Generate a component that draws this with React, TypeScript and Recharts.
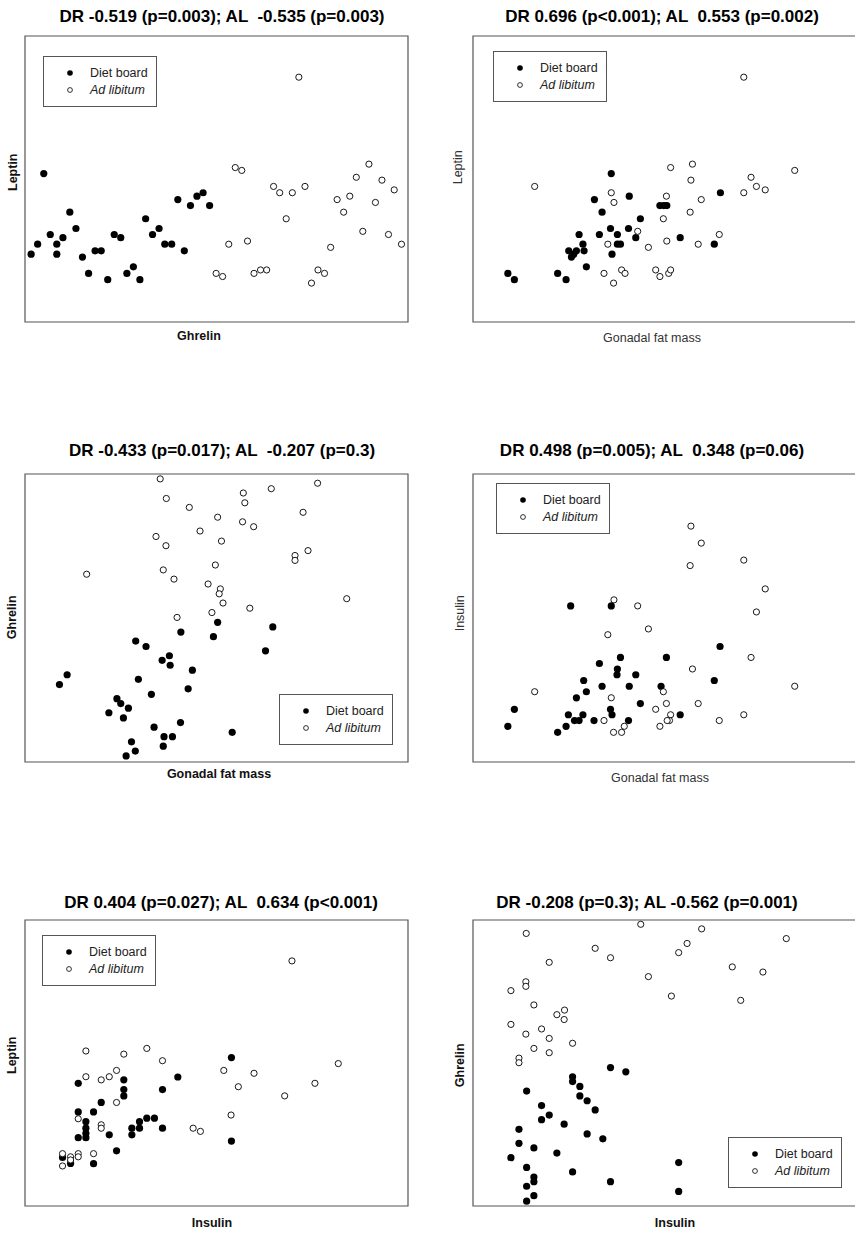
import React from "react";
import { ScatterChart, Scatter, XAxis, YAxis, ReferenceArea } from "recharts";

/* six scatter panels, DR (diet board) vs AL (ad libitum) correlations.
   axes are unlabelled in the source so values are on a 0-100 plot scale */

type Pt = [number, number];

// Leptin vs Ghrelin
const p1Diet: Pt[] = [
  [1.6, 23.7], [3.3, 27.2], [4.9, 51.9], [6.6, 30.6], [8.3, 27.2], [8.3, 23.7], [9.9, 29.5], [11.7, 38.4],
  [13.3, 32.7], [15.0, 22.7], [16.6, 17.0], [18.3, 24.9], [19.9, 24.9], [21.6, 14.8], [23.3, 30.6], [25.0, 29.5],
  [26.6, 17.0], [28.3, 19.3], [30.0, 14.8], [31.5, 36.1], [33.3, 30.6], [35.0, 32.7], [36.5, 27.2], [38.3, 27.2],
  [39.9, 42.8], [41.6, 24.9], [43.2, 40.7], [44.9, 44.0], [46.5, 45.2], [48.2, 40.7],
];
const p1AdLib: Pt[] = [
  [49.9, 17.0], [51.6, 15.9], [53.2, 27.2], [54.9, 54.0], [56.6, 53.0], [58.1, 28.3], [59.8, 17.0], [61.5, 18.2],
  [63.1, 18.2], [64.9, 47.4], [66.5, 45.2], [68.2, 36.1], [69.8, 45.2], [71.5, 85.6], [73.1, 47.4], [74.8, 13.6],
  [76.5, 18.2], [78.2, 17.0], [79.8, 26.1], [81.5, 42.8], [83.2, 38.4], [84.8, 44.0], [86.5, 50.6], [88.2, 31.7],
  [89.8, 55.2], [91.5, 41.8], [93.2, 49.6], [94.9, 30.6], [96.4, 46.2], [98.3, 27.2],
];

// Leptin vs Gonadal fat mass
const p2Diet: Pt[] = [
  [9.1, 17.0], [10.8, 14.8], [22.1, 17.0], [24.3, 14.8], [25.0, 24.9], [25.7, 22.7], [26.3, 23.7], [27.0, 24.9],
  [27.7, 30.6], [28.7, 27.2], [29.0, 24.9], [29.6, 19.3], [31.7, 42.8], [33.0, 30.6], [33.7, 38.4], [35.9, 32.7],
  [36.1, 51.9], [36.3, 23.7], [37.7, 30.6], [37.7, 27.2], [38.5, 27.2], [40.6, 32.7], [40.8, 44.0], [42.5, 29.5],
  [43.7, 36.1], [48.8, 40.7], [49.8, 40.7], [50.6, 40.7], [54.1, 29.5], [63.0, 27.2], [64.6, 45.2],
];
const p2AdLib: Pt[] = [
  [16.1, 47.4], [34.2, 17.0], [35.2, 27.2], [36.1, 45.2], [36.7, 13.6], [36.8, 41.8], [38.8, 18.2], [39.7, 17.0],
  [43.0, 31.7], [45.8, 26.1], [47.7, 18.2], [48.8, 15.9], [49.7, 36.1], [50.5, 44.0], [50.6, 28.3], [51.1, 17.0],
  [51.6, 18.2], [51.6, 54.0], [56.7, 38.4], [56.9, 49.6], [57.3, 55.2], [58.8, 27.2], [59.6, 42.8], [64.3, 30.6],
  [70.7, 85.6], [70.7, 45.2], [72.6, 50.6], [74.0, 47.4], [76.3, 46.2], [84.0, 53.0],
];

// Ghrelin vs Gonadal fat mass
const p3Diet: Pt[] = [
  [50.3, 48.5], [40.7, 45.1], [49.2, 43.5], [64.7, 46.9], [28.9, 42.0], [31.6, 40.1], [62.8, 38.6], [37.7, 36.9],
  [35.8, 35.3], [37.9, 33.6], [43.7, 31.9], [11.0, 30.3], [9.0, 26.9], [29.6, 28.7], [42.6, 25.4], [33.0, 23.5],
  [24.0, 22.0], [25.0, 20.3], [27.0, 18.7], [21.9, 17.1], [25.7, 15.3], [40.6, 13.7], [33.7, 12.1], [54.1, 10.3],
  [36.3, 8.8], [38.5, 8.8], [27.8, 7.0], [36.1, 5.5], [28.8, 3.8], [26.4, 2.1],
];
const p3AdLib: Pt[] = [
  [35.3, 98.3], [36.9, 91.5], [42.9, 88.4], [50.3, 85.0], [57.0, 93.4], [57.4, 90.0], [56.8, 83.4], [59.7, 81.7],
  [64.3, 94.9], [76.4, 96.8], [72.6, 86.7], [45.7, 80.2], [34.2, 78.3], [36.8, 75.1], [51.3, 76.7], [16.1, 65.2],
  [36.1, 66.7], [38.9, 63.5], [49.7, 68.4], [70.5, 71.7], [70.5, 70.0], [73.9, 73.4], [47.8, 61.8], [51.0, 60.1],
  [50.7, 58.4], [51.7, 55.2], [48.8, 51.9], [58.7, 53.4], [39.7, 50.2], [84.0, 56.7],
];

// Insulin vs Gonadal fat mass
const p4Diet: Pt[] = [
  [25.5, 54.2], [36.1, 54.2], [64.5, 40.1], [38.5, 36.3], [50.5, 36.3], [33.0, 34.2], [37.7, 32.3], [37.6, 30.3],
  [42.5, 30.3], [63.0, 28.3], [28.9, 28.3], [33.7, 26.3], [40.8, 26.3], [49.1, 26.3], [29.6, 24.4], [27.0, 22.3],
  [43.7, 20.3], [35.9, 18.3], [24.9, 16.4], [28.7, 16.4], [36.3, 16.4], [54.1, 16.4], [26.5, 14.4], [27.7, 14.4],
  [31.6, 14.4], [40.6, 14.4], [9.1, 12.4], [10.8, 18.3], [24.3, 12.4], [22.1, 10.3],
];
const p4AdLib: Pt[] = [
  [56.9, 81.9], [59.6, 76.0], [56.7, 68.2], [70.7, 70.1], [76.3, 60.1], [74.0, 52.1], [36.8, 56.3], [43.0, 54.2],
  [45.8, 46.2], [35.2, 44.2], [72.6, 36.3], [57.3, 32.3], [84.0, 26.3], [16.1, 24.4], [36.1, 22.3], [49.7, 24.4],
  [47.7, 18.3], [50.5, 20.3], [58.8, 20.3], [51.6, 16.4], [51.3, 14.4], [50.7, 14.4], [48.8, 12.4], [34.2, 14.4],
  [39.5, 12.4], [36.7, 10.3], [38.8, 10.3], [64.3, 14.4], [70.7, 16.4],
];

// Leptin vs Insulin
const p5Diet: Pt[] = [
  [53.9, 51.9], [39.9, 45.1], [13.9, 42.9], [25.8, 44.1], [25.8, 40.7], [25.8, 38.5], [35.9, 40.7], [19.9, 36.2],
  [13.9, 32.9], [17.9, 32.9], [15.9, 29.5], [15.9, 27.2], [15.9, 25.4], [15.9, 23.9], [13.9, 23.9], [22.0, 24.9],
  [31.8, 30.7], [33.8, 30.7], [29.9, 29.5], [29.9, 27.2], [27.9, 27.2], [27.9, 24.9], [35.9, 27.2], [53.9, 22.7],
  [23.9, 19.3], [9.8, 17.0], [11.9, 14.9], [17.9, 14.8],
];
const p5AdLib: Pt[] = [
  [69.7, 85.7], [15.9, 54.2], [25.8, 53.1], [31.8, 55.1], [35.9, 50.8], [15.9, 45.2], [19.9, 44.1], [22.0, 45.2],
  [23.9, 47.4], [23.9, 36.2], [51.9, 47.4], [59.8, 46.4], [55.7, 41.7], [81.8, 49.8], [75.7, 42.9], [67.8, 38.5],
  [53.8, 31.8], [13.9, 30.5], [19.9, 28.4], [19.9, 27.2], [43.9, 27.2], [45.8, 26.1], [9.8, 18.3], [9.8, 14.0],
  [11.9, 17.2], [11.9, 16.1], [13.9, 18.3], [13.9, 17.2], [17.9, 18.3],
];

// Ghrelin vs Insulin
const p6Diet: Pt[] = [
  [35.9, 48.4], [39.9, 46.9], [26.0, 45.2], [26.0, 43.5], [27.9, 41.8], [14.0, 40.2], [27.9, 38.5], [29.8, 36.8],
  [31.9, 33.6], [17.9, 35.1], [19.9, 31.8], [17.9, 30.2], [23.8, 28.6], [12.0, 26.8], [29.8, 25.2], [33.9, 23.5],
  [12.0, 21.9], [15.9, 20.3], [9.9, 16.9], [21.9, 18.5], [53.7, 15.2], [14.0, 13.5], [26.0, 11.9], [15.9, 10.1],
  [15.9, 8.5], [35.9, 8.5], [14.0, 6.9], [15.9, 3.6], [53.7, 5.1], [14.0, 1.7],
];
const p6AdLib: Pt[] = [
  [43.8, 98.5], [59.7, 96.9], [13.9, 95.3], [81.8, 93.5], [55.9, 91.8], [53.7, 88.6], [31.9, 90.1], [35.9, 86.8],
  [19.9, 85.2], [67.7, 83.6], [75.7, 81.8], [45.8, 80.2], [13.8, 78.4], [13.8, 76.8], [9.9, 75.3], [51.8, 73.4],
  [69.9, 71.9], [15.9, 70.3], [23.9, 68.5], [21.9, 66.9], [23.8, 65.2], [9.9, 63.5], [17.9, 61.9], [13.8, 60.1],
  [19.9, 58.6], [26.0, 56.9], [15.9, 55.1], [19.9, 53.6], [12.0, 51.7], [12.0, 50.1],
];

const titles = [
  "DR -0.519 (p=0.003); AL  -0.535 (p=0.003)",
  "DR 0.696 (p<0.001); AL  0.553 (p=0.002)",
  "DR -0.433 (p=0.017); AL  -0.207 (p=0.3)",
  "DR 0.498 (p=0.005); AL  0.348 (p=0.06)",
  "DR 0.404 (p=0.027); AL  0.634 (p<0.001)",
  "DR -0.208 (p=0.3); AL -0.562 (p=0.001)",
];
const xLabels = ["Ghrelin", "Gonadal fat mass", "Gonadal fat mass", "Gonadal fat mass", "Insulin", "Insulin"];
const yLabels = ["Leptin", "Leptin", "Ghrelin", "Insulin", "Leptin", "Ghrelin"];

const FONT = '"Liberation Sans", Arial, Helvetica, sans-serif';
const PAD = 6;

const rows = (pts: Pt[]) => pts.map(([x, y]) => ({ x, y }));

const panels = [
  { diet: p1Diet, al: p1AdLib, frame: [25, 36, 383, 286], title: [222, 16], xl: [199, 336], yl: [13, 172], legend: [43, 56], boldLabels: true },
  { diet: p2Diet, al: p2AdLib, frame: [473, 36, 383, 286], title: [662, 16], xl: [652, 338], yl: [458, 167], legend: [493, 51], boldLabels: false },
  { diet: p3Diet, al: p3AdLib, frame: [25, 474, 383, 288], title: [222, 450], xl: [219, 774], yl: [12, 617], legend: [279, 694], boldLabels: true },
  { diet: p4Diet, al: p4AdLib, frame: [473, 474, 383, 288], title: [652, 450], xl: [660, 778], yl: [460, 613], legend: [496, 483], boldLabels: false },
  { diet: p5Diet, al: p5AdLib, frame: [25, 920, 383, 286], title: [221, 902], xl: [212, 1223], yl: [12, 1055], legend: [42, 935], boldLabels: true },
  { diet: p6Diet, al: p6AdLib, frame: [473, 920, 383, 286], title: [647, 902], xl: [675, 1223], yl: [460, 1065], legend: [728, 1137], boldLabels: true },
];

const Filled = (p: any) => <circle cx={p.cx} cy={p.cy} r={3.6} fill="#000" />;
const Open = (p: any) => <circle cx={p.cx} cy={p.cy} r={3.1} fill="#fff" stroke="#000" strokeWidth={0.9} />;

function Text({ cx, cy, size, bold, color, rotate, children }: any) {
  return (
    <div style={{
      position: "absolute", left: cx - 250, top: cy - size / 2, width: 500, height: size,
      lineHeight: `${size}px`, fontSize: size, fontFamily: FONT, fontWeight: bold ? 700 : 400,
      color, textAlign: "center", whiteSpace: "pre",
      transform: rotate ? "rotate(-90deg)" : undefined, transformOrigin: "center",
    }}>{children}</div>
  );
}

function LegendBox({ left, top }: { left: number; top: number }) {
  const row = (filled: boolean, label: React.ReactNode, dy: number) => (
    <div style={{ position: "absolute", left: 0, top: dy - 8, height: 16, width: "100%" }}>
      <svg width={16} height={16} style={{ position: "absolute", left: 18, top: 0 }}>
        {filled
          ? <circle cx={8} cy={8} r={2.8} fill="#000" />
          : <circle cx={8} cy={8} r={2.4} fill="#fff" stroke="#000" strokeWidth={0.8} />}
      </svg>
      <span style={{ position: "absolute", left: 46, top: 0, lineHeight: "16px", fontSize: 12.5, color: "#222", whiteSpace: "nowrap" }}>
        {label}
      </span>
    </div>
  );
  return (
    <div style={{
      position: "absolute", left, top, width: 114, height: 51, border: "1px solid #555",
      background: "#fff", boxSizing: "border-box", fontFamily: FONT,
    }}>
      {row(true, "Diet board", 16)}
      {row(false, <i>Ad libitum</i>, 33)}
    </div>
  );
}

function Panel({ cfg, i }: { cfg: (typeof panels)[number]; i: number }) {
  const [fl, ft, fw, fh] = cfg.frame;
  return (
    <>
      <div style={{ position: "absolute", left: fl - PAD, top: ft - PAD }}>
        <ScatterChart width={fw + 2 * PAD} height={fh + 2 * PAD} margin={{ top: PAD, right: PAD, bottom: PAD, left: PAD }}>
          <XAxis type="number" dataKey="x" domain={[0, 100]} hide />
          <YAxis type="number" dataKey="y" domain={[0, 100]} hide />
          <ReferenceArea x1={0} x2={100} y1={0} y2={100} fill="none" fillOpacity={0} stroke="#555" strokeWidth={1.2} strokeOpacity={1} />
          <Scatter name="Diet board" data={rows(cfg.diet)} shape={Filled} isAnimationActive={false} />
          <Scatter name="Ad libitum" data={rows(cfg.al)} shape={Open} isAnimationActive={false} />
        </ScatterChart>
      </div>
      <Text cx={cfg.title[0]} cy={cfg.title[1]} size={17} bold color="#000">{titles[i]}</Text>
      <Text cx={cfg.xl[0]} cy={cfg.xl[1]} size={12.5} bold={cfg.boldLabels} color={cfg.boldLabels ? "#111" : "#333"}>{xLabels[i]}</Text>
      <Text cx={cfg.yl[0]} cy={cfg.yl[1]} size={12.5} bold={cfg.boldLabels} color={cfg.boldLabels ? "#111" : "#333"} rotate>{yLabels[i]}</Text>
      <LegendBox left={cfg.legend[0]} top={cfg.legend[1]} />
    </>
  );
}

export default function App() {
  return (
    <div style={{ position: "absolute", left: 0, top: 0, width: 855, height: 1235, overflow: "hidden", background: "#fff" }}>
      {panels.map((p, i) => <Panel key={i} cfg={p} i={i} />)}
    </div>
  );
}
